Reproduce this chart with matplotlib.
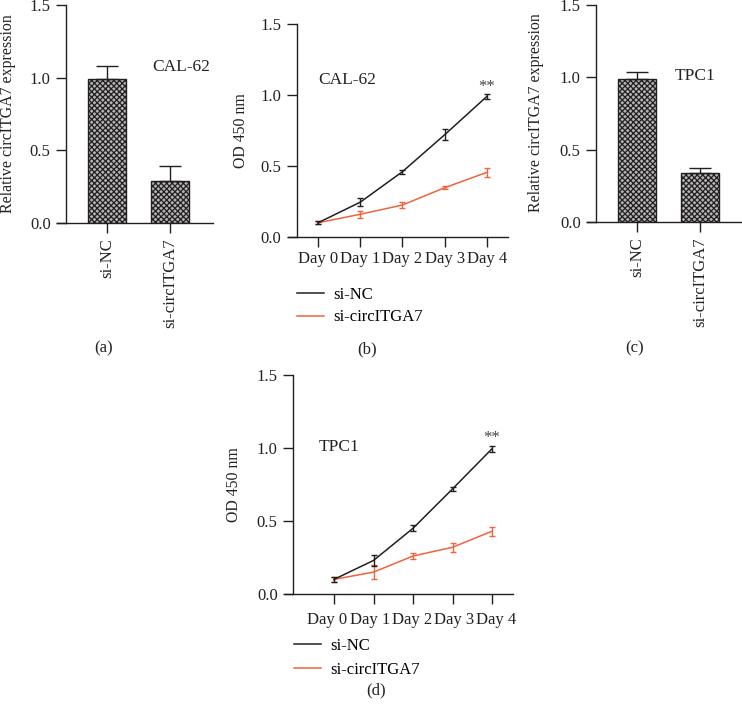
import matplotlib
matplotlib.use('Agg')
import matplotlib.pyplot as plt
import numpy as np

plt.rcParams['font.family'] = ['Liberation Serif', 'DejaVu Serif']
plt.rcParams['hatch.linewidth'] = 0.9

# ---------------- data ----------------
groups = ['si-NC', 'si-circITGA7']
cal62_expr = [0.99, 0.29]
cal62_expr_err = [0.09, 0.10]
tpc1_expr = [0.99, 0.34]
tpc1_expr_err = [0.05, 0.03]

days = ['Day 0', 'Day 1', 'Day 2', 'Day 3', 'Day 4']
cal62_nc = [0.10, 0.245, 0.46, 0.72, 0.99]
cal62_nc_err = [0.01, 0.03, 0.015, 0.04, 0.02]
cal62_si = [0.10, 0.16, 0.225, 0.347, 0.455]
cal62_si_err = [0.01, 0.025, 0.02, 0.012, 0.03]
tpc1_nc = [0.10, 0.23, 0.45, 0.72, 0.995]
tpc1_nc_err = [0.015, 0.037, 0.02, 0.012, 0.02]
tpc1_si = [0.10, 0.15, 0.26, 0.32, 0.43]
tpc1_si_err = [0.015, 0.05, 0.02, 0.03, 0.03]
series_names = ['si-NC', 'si-circITGA7']

# ---------------- layout ----------------
W, H = 742, 707
fig = plt.figure(figsize=(W / 100, H / 100), dpi=100)
BLACK = '#231f20'
ORANGE = '#f0643c'
TXT = '#222222'
FS = 12
LFS = 11.4


def rect(l, r, top, bot):
    return [l / W, (H - bot) / H, (r - l) / W, (bot - top) / H]


def style_axes(ax, yspine_x, xlim):
    ax.set_xlim(*xlim)
    ax.set_ylim(0, 1.5)
    ax.spines['top'].set_visible(False)
    ax.spines['right'].set_visible(False)
    ax.spines['left'].set_position(('data', yspine_x))
    for s in ('left', 'bottom'):
        ax.spines[s].set_linewidth(1.0)
        ax.spines[s].set_color(BLACK)
    ax.set_yticks([0, 0.5, 1.0, 1.5])
    ax.set_yticklabels(['0.0', '0.5', '1.0', '1.5'])
    ax.tick_params(axis='both', length=7, width=1.0, color=BLACK,
                   labelsize=FS, labelcolor=TXT)
    ax.tick_params(axis='y', pad=4)
    ax.patch.set_visible(False)


def bar_panel(box, vals, errs, yspine_x, xlim, ylab_xy, cell, cell_xy, tag, tag_xy):
    ax = fig.add_axes(box)
    x = np.arange(len(groups))
    ax.bar(x, vals, width=0.61, color='#b4b4b4', edgecolor=BLACK,
           hatch='xxxxxx', linewidth=1.0, zorder=2)
    ax.errorbar(x, vals, yerr=[np.zeros(len(vals)), errs], fmt='none',
                ecolor=BLACK, elinewidth=1.0, capsize=8, capthick=1.0, zorder=3)
    style_axes(ax, yspine_x, xlim)
    ax.set_xticks(x)
    ax.set_xticklabels(groups, rotation=90)
    ax.tick_params(axis='x', pad=4)
    ax.set_ylabel('Relative circITGA7 expression', fontsize=LFS, color=TXT)
    ax.yaxis.set_label_coords(ylab_xy[0] / W, 1 - ylab_xy[1] / H, transform=fig.transFigure)
    ax.text(cell_xy[0], cell_xy[1], cell, fontsize=FS + 0.5, ha='left', va='center', color=TXT)
    fig.text(tag_xy[0] / W, 1 - tag_xy[1] / H, tag, fontsize=FS, ha='center', va='center', color=TXT)
    return ax


def line_panel(box, nc, nc_err, si, si_err, yspine_x, xlim, ylab_xy, cell, cell_xy,
               star_xy, leg_xy, leg_sp, tag, tag_xy, label_spread=1.0):
    ax = fig.add_axes(box)
    x = np.arange(len(days))
    h1 = ax.errorbar(x, nc, yerr=nc_err, color=BLACK, lw=1.1, elinewidth=1.0,
                     capsize=2.5, capthick=1.0, zorder=3)
    h2 = ax.errorbar(x, si, yerr=si_err, color=ORANGE, lw=1.1, elinewidth=1.0,
                     capsize=2.5, capthick=1.0, zorder=2)
    style_axes(ax, yspine_x, xlim)
    if label_spread == 1.0:
        ax.set_xticks(x)
        ax.set_xticklabels(days)
        ax.tick_params(axis='x', pad=3)
    else:
        # tick marks at the days, labels slightly spread out as in the original figure
        mid = (len(days) - 1) / 2
        ax.set_xticks(x)
        ax.set_xticklabels([''] * len(days))
        ax.set_xticks(mid + (x - mid) * label_spread - 0.03, minor=True)
        ax.set_xticklabels(days, minor=True)
        ax.tick_params(axis='x', which='minor', length=0, pad=3 + 7 * 1.39,
                       labelsize=FS, labelcolor=TXT)
    ax.set_ylabel('OD 450 nm', fontsize=LFS, color=TXT)
    ax.yaxis.set_label_coords(ylab_xy[0] / W, 1 - ylab_xy[1] / H, transform=fig.transFigure)
    ax.text(cell_xy[0], cell_xy[1], cell, fontsize=FS + 0.5, ha='left', va='center', color=TXT)
    ax.text(star_xy[0], star_xy[1], '**', fontsize=FS, ha='center', va='center', color='#444444')
    ax.legend([h1.lines[0], h2.lines[0]], series_names, loc='upper left',
              bbox_to_anchor=(leg_xy[0] / W, 1 - leg_xy[1] / H),
              bbox_transform=fig.transFigure, frameon=False, fontsize=FS,
              borderpad=0, borderaxespad=0, handlelength=1.6, handletextpad=0.6,
              labelspacing=leg_sp)
    fig.text(tag_xy[0] / W, 1 - tag_xy[1] / H, tag, fontsize=FS, ha='center', va='center', color=TXT)
    return ax


# (a)
bar_panel(rect(57, 213, 5, 223), cal62_expr, cal62_expr_err,
          yspine_x=-0.651, xlim=(-0.794, 1.683), ylab_xy=(16, 114),
          cell='CAL-62', cell_xy=(0.72, 1.07), tag='(a)', tag_xy=(104, 348))

# (c)
bar_panel(rect(587, 742, 5, 222), tpc1_expr, tpc1_expr_err,
          yspine_x=-0.651, xlim=(-0.794, 1.667), ylab_xy=(544, 113),
          cell='TPC1', cell_xy=(0.6, 1.01), tag='(c)', tag_xy=(635, 348))

# (b)
line_panel(rect(288, 508, 24, 237), cal62_nc, cal62_nc_err, cal62_si, cal62_si_err,
           yspine_x=-0.5, xlim=(-0.71, 4.5), ylab_xy=(249, 131),
           cell='CAL-62', cell_xy=(0.0, 1.105), star_xy=(4.0, 1.056),
           leg_xy=(297, 287), leg_sp=0.38, tag='(b)', tag_xy=(367, 349))

# (d)
line_panel(rect(285, 513, 375, 594), tpc1_nc, tpc1_nc_err, tpc1_si, tpc1_si_err,
           yspine_x=-1.04, xlim=(-1.24, 4.53), ylab_xy=(242, 485),
           cell='TPC1', cell_xy=(-0.4, 1.01), star_xy=(4.0, 1.066),
           leg_xy=(294, 638), leg_sp=0.45, tag='(d)', tag_xy=(376, 690),
           label_spread=1.068)

fig.savefig('out.png', dpi=100)
